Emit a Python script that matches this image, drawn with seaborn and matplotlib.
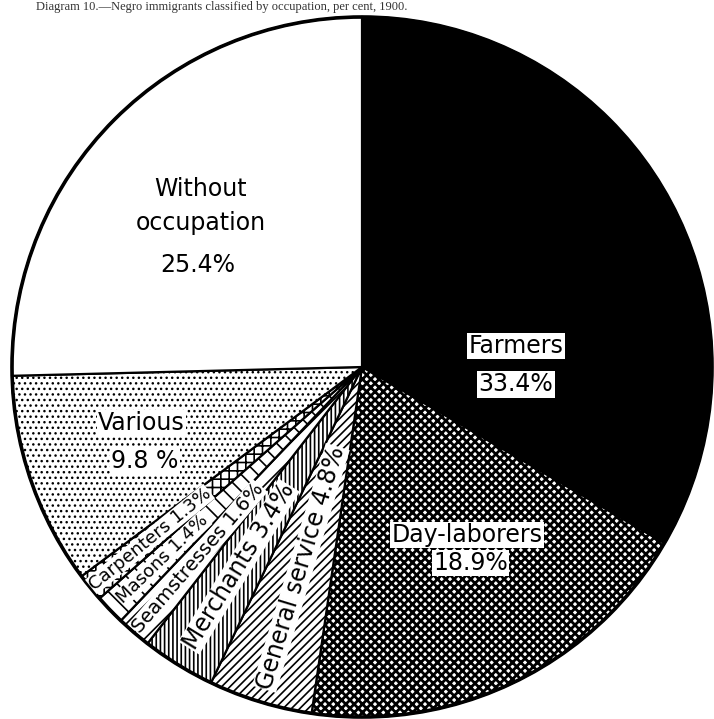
import numpy as np
import matplotlib
matplotlib.use("Agg")
from matplotlib import pyplot as plt
import seaborn as sns

# slices, clockwise from the top
occupations = ["Farmers", "Day-laborers", "General service", "Merchants",
               "Seamstresses", "Masons", "Carpenters", "Various",
               "Without occupation"]
shares = [33.4, 18.9, 4.8, 3.4, 1.6, 1.4, 1.3, 9.8, 25.4]
share_text = ["33.4%", "18.9%", "4.8%", "3.4%", "1.6%", "1.4%", "1.3%", "9.8 %", "25.4%"]

hatches = [None, "xxxx", "////", "||||", "//", "\\\\", "++", "...", None]
hatch_lw = [1, 2.0, 1.2, 1.2, 1.2, 1.2, 1.2, 1.0, 1]
fills = ["black", "white", "white", "white", "white", "white", "white", "white", "white"]

sns.set_theme(style="white")
plt.rcParams["font.family"] = ["DejaVu Sans"]
plt.rcParams["text.color"] = "black"
plt.rcParams["hatch.color"] = "black"
plt.rcParams["hatch.linewidth"] = 1.2

fig = plt.figure(figsize=(7.14, 7.19), dpi=100)
fig.patch.set_facecolor("white")
ax = fig.add_axes([0, 0, 1, 1])

wedges, _ = ax.pie(shares, startangle=90, counterclock=False, colors=fills,
                   wedgeprops=dict(edgecolor="black", linewidth=1.6))
for w, h, lw in zip(wedges, hatches, hatch_lw):
    if h:
        w.set_hatch(h)
        if hasattr(w, "set_hatch_linewidth"):
            w.set_hatch_linewidth(lw)
ax.add_patch(plt.Circle((0, 0), 1, fill=False, edgecolor="black", linewidth=2.6))

# center of pie at pixel (362, 367), radius 350 px
ax.set_xlim(-362 / 350, (714 - 362) / 350)
ax.set_ylim(-(719 - 367) / 350, 367 / 350)
ax.set_aspect("equal")
ax.axis("off")

box = dict(facecolor="white", edgecolor="none", pad=1.0)

# big labels
ax.text(0.44, 0.06, occupations[0], ha="center", va="center", fontsize=17, bbox=box)
ax.text(0.44, -0.05, share_text[0], ha="center", va="center", fontsize=17, bbox=box)
ax.text(0.30, -0.48, occupations[1], ha="center", va="center", fontsize=17, bbox=box)
ax.text(0.31, -0.56, share_text[1], ha="center", va="center", fontsize=17, bbox=box)
ax.text(-0.46, 0.51, "Without", ha="center", va="center", fontsize=17)
ax.text(-0.46, 0.41, "occupation", ha="center", va="center", fontsize=17)
ax.text(-0.47, 0.29, share_text[8], ha="center", va="center", fontsize=17)
ax.text(-0.63, -0.16, occupations[7], ha="center", va="center", fontsize=17, bbox=box)
ax.text(-0.62, -0.27, share_text[7], ha="center", va="center", fontsize=17, bbox=box)

# labels running along the thin slices
small = {2: (0.60, 17), 3: (0.67, 17), 4: (0.72, 14), 5: (0.79, 13), 6: (0.78, 13)}
start = 90.0
for i, s in enumerate(shares):
    mid = start - 3.6 * s / 2
    start -= 3.6 * s
    if i in small:
        r, fs = small[i]
        a = np.deg2rad(mid)
        ax.text(r * np.cos(a), r * np.sin(a), f"{occupations[i]} {share_text[i]}",
                rotation=mid + 180, rotation_mode="anchor", ha="center", va="center",
                fontsize=fs, bbox=dict(facecolor="white", edgecolor="none", pad=0.3))

# caption at the top edge of the scan
fig.text(0.05, 0.999, "Diagram 10.\u2014Negro immigrants classified by occupation, per cent, 1900.",
         ha="left", va="top", fontsize=9, family="Liberation Serif", color="#333333")

fig.savefig("out.png", dpi=100, facecolor="white")
